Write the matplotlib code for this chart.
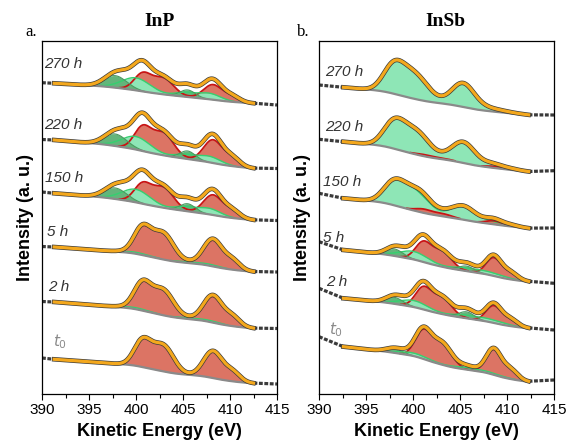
import numpy as np
import matplotlib.pyplot as plt
from matplotlib.ticker import MultipleLocator

plt.rcParams['font.family'] = ['Liberation Sans', 'DejaVu Sans']

labels = ['270 h', '220 h', '150 h', '5 h', '2 h', '$t_0$']

# ---- InP (a) ----  intensities in arbitrary units, spectra stacked top->bottom
inp_window = [391.3, 412.5]
inp_bg_left = [310.7, 254.0, 200.7, 147.0, 92.0, 34.7]
inp_bg_right = [290.7, 225.7, 174.0, 122.3, 65.7, 10.7]
inp_tail_left = [311.3, 254.5, 202.0, 147.5, 92.5, 36.0]
inp_tail_right = [289.0, 225.5, 173.5, 122.0, 65.5, 10.0]
inp_red_pos = [400.7, 402.9, 408.2, 410.3]
inp_red_wid = [0.9, 1.1, 1.0, 0.8]
inp_red_amp = [[17, 16, 15, 5], [23, 22, 23, 8], [19, 20, 20, 7],
               [26, 26, 26, 9], [26, 25, 26, 9], [26, 26, 27, 9]]
inp_dark_pos = [397.8, 405.5]
inp_dark_wid = [1.2, 0.8]
inp_dark_amp = [[12, 7], [12, 8], [11, 7.5], [0, 0], [0, 0], [0, 0]]
inp_light_pos = [400.0, 405.2, 407.8]
inp_light_wid = [1.5, 1.0, 1.2]
inp_light_amp = [[12.5, 4, 6], [13, 4, 6], [13, 4, 6],
                 [1.5, 1, 1.5], [1.5, 1, 1.5], [0, 0, 0]]
inp_label_y = [330, 269, 216, 162, 107, 52]
inp_label_x = [390.2, 390.2, 390.3, 390.5, 390.6, 391.2]

# ---- InSb (b) ----
insb_window = [392.6, 412.3]
insb_bg_left = [306.7, 252.3, 195.7, 144.0, 95.7, 47.3]
insb_bg_right = [279.0, 222.3, 165.7, 112.3, 65.7, 12.3]
insb_tail_left = [309.0, 254.7, 200.7, 152.3, 105.7, 57.3]
insb_tail_right = [279.0, 223.3, 166.0, 110.7, 64.0, 14.0]
insb_red_pos = [401.1, 403.1, 408.6, 410.4]
insb_red_wid = [0.85, 1.0, 0.8, 0.75]
insb_red_amp = [[0, 0, 0, 0], [1.5, 1, 1.5, 0.5], [3.5, 2.5, 3.5, 1],
                [19, 15, 18, 6], [21, 16, 17, 6], [27, 21, 25, 9]]
insb_dark_pos = [398.0, 405.7]
insb_dark_wid = [0.9, 0.8]
insb_dark_amp = [[0, 0], [0, 0], [0, 0], [7, 5], [6.5, 6.5], [4, 2]]
insb_light_pos = [397.9, 400.1, 405.3, 408.0]
insb_light_wid = [1.1, 1.5, 1.2, 1.8]
insb_light_amp = [[24, 25, 23, 3], [22, 23, 20, 3], [19, 20, 13, 2.5],
                  [0, 8, 2, 3], [0, 6.5, 2, 3], [0, 3, 1.5, 1.5]]
insb_label_y = [322, 267, 212, 156, 112, 64]
insb_label_x = [390.6, 390.6, 390.4, 390.4, 390.8, 391.1]

RED, RED_EDGE = '#dc7464', '#c81414'
LIGHT, LIGHT_EDGE = '#8ee6b6', '#35d070'
DARK, DARK_EDGE = '#63b57b', '#4a9a60'
ORANGE = '#f4a81d'
DATA = '#3a3a3a'


def peaks(x, pos, wid, amp):
    out = np.zeros_like(x)
    for p, w, a in zip(pos, wid, amp):
        out += a * np.exp(-0.5 * ((x - p) / w) ** 2)
    return out


def background(x, total, left, right):
    t = (x - x[0]) / (x[-1] - x[0])
    cum = np.cumsum(total)
    frac = cum / cum[-1] if cum[-1] > 0 else t
    return left + (right - left) * (0.6 * t + 0.4 * frac)


def draw_panel(ax, win, bgl, bgr, tl, tr, red_p, red_w, red_a,
               dk_p, dk_w, dk_a, lt_p, lt_w, lt_a, lab_x, lab_y):
    x = np.linspace(win[0], win[1], 500)
    for i in range(len(labels)):
        red = peaks(x, red_p, red_w, red_a[i])
        light = peaks(x, lt_p, lt_w, lt_a[i])
        dark = peaks(x, dk_p, dk_w, dk_a[i])
        bg = background(x, red + light + dark, bgl[i], bgr[i])
        env = bg + red + light + dark

        # biggest component goes at the back
        comps = [(red, RED, RED_EDGE, 1.3), (light, LIGHT, LIGHT_EDGE, 1.0),
                 (dark, DARK, DARK_EDGE, 0.8)]
        comps = sorted(comps, key=lambda c: -c[0].max())
        for comp, fc, ec, lw in comps:
            if comp.max() < 0.3:
                continue
            ax.fill_between(x, bg, bg + comp, color=fc, lw=0)
            ax.plot(x, np.where(comp > 0.4, bg + comp, np.nan), color=ec, lw=lw)
        ax.plot(x, bg, color='#8a8a8a', lw=1.6)

        # raw data (dark) under the orange envelope
        ax.plot([390, win[0]], [tl[i], env[0]], color=DATA, lw=2.3,
                ls=(0, (1.2, 0.5)))
        ax.plot([win[1], 415], [env[-1], tr[i]], color=DATA, lw=2.3,
                ls=(0, (1.2, 0.5)))
        ax.plot(x, env, color=DATA, lw=3.3)
        ax.plot(x, env, color=ORANGE, lw=2.3)

        col = '#8a8a8a' if i == len(labels) - 1 else '#333333'
        ax.text(lab_x[i], lab_y[i], labels[i], style='italic', fontsize=11,
                color=col, va='center', ha='left')

    ax.set_xlim(390, 415)
    ax.set_ylim(0, 353)
    ax.set_yticks([])
    ax.xaxis.set_major_locator(MultipleLocator(5))
    ax.xaxis.set_minor_locator(MultipleLocator(2.5))
    ax.tick_params(axis='x', which='major', direction='out', length=4.5,
                   width=0.8, labelsize=11, pad=2)
    ax.tick_params(axis='x', which='minor', direction='out', length=3, width=0.8)
    ax.set_xlabel('Kinetic Energy (eV)', fontsize=13, fontweight='bold', labelpad=4)
    ax.set_ylabel('Intensity (a. u.)', fontsize=13, fontweight='bold', labelpad=6)
    for s in ax.spines.values():
        s.set_linewidth(0.9)


fig = plt.figure(figsize=(5.66, 4.46), dpi=100)
ax1 = fig.add_axes([42 / 566, 52 / 446, 235 / 566, 353 / 446])
ax2 = fig.add_axes([319 / 566, 52 / 446, 235 / 566, 353 / 446])

draw_panel(ax1, inp_window, inp_bg_left, inp_bg_right, inp_tail_left, inp_tail_right,
           inp_red_pos, inp_red_wid, inp_red_amp, inp_dark_pos, inp_dark_wid, inp_dark_amp,
           inp_light_pos, inp_light_wid, inp_light_amp, inp_label_x, inp_label_y)
draw_panel(ax2, insb_window, insb_bg_left, insb_bg_right, insb_tail_left, insb_tail_right,
           insb_red_pos, insb_red_wid, insb_red_amp, insb_dark_pos, insb_dark_wid, insb_dark_amp,
           insb_light_pos, insb_light_wid, insb_light_amp, insb_label_x, insb_label_y)

fig.text(160 / 566, 1 - 22 / 446, 'InP', family='Liberation Serif', fontweight='bold',
         fontsize=14, ha='center', va='center')
fig.text(445 / 566, 1 - 22 / 446, 'InSb', family='Liberation Serif', fontweight='bold',
         fontsize=14, ha='center', va='center')
fig.text(25 / 566, 1 - 32 / 446, 'a.', family='Liberation Serif', fontsize=12,
         ha='left', va='center')
fig.text(297 / 566, 1 - 32 / 446, 'b.', family='Liberation Serif', fontsize=12,
         ha='left', va='center')

fig.savefig('out.png', dpi=100)
